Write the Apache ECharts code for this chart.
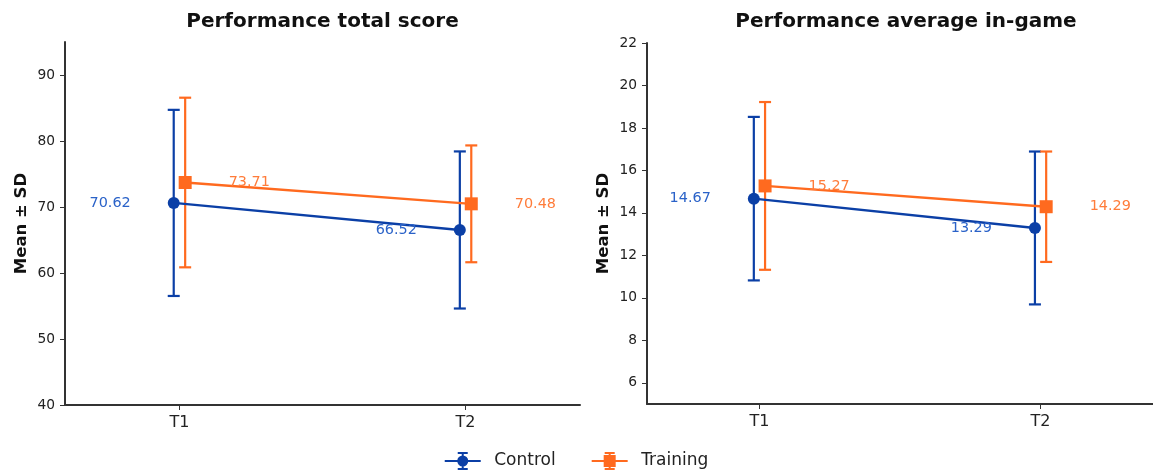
<!DOCTYPE html>
<html>
<head>
<meta charset="utf-8">
<script src="https://cdn.jsdelivr.net/npm/echarts@6/dist/echarts.min.js"></script>
<style>html,body{margin:0;padding:0;background:#fff}#c{width:1153px;height:475px}</style>
</head>
<body>
<div id="c"></div>
<script>
const categories = ['T1', 'T2'];
const titles = ['Performance total score', 'Performance average in-game'];
const yName = 'Mean ± SD';
// Panel 1: total score
const ctrlMean1 = [70.62, 66.52];
const ctrlSD1 = [14.1, 11.9];
const trainMean1 = [73.71, 70.48];
const trainSD1 = [12.85, 8.85];
const yTicks1 = [40, 50, 60, 70, 80, 90];
// Panel 2: average in-game
const ctrlMean2 = [14.67, 13.29];
const ctrlSD2 = [3.85, 3.6];
const trainMean2 = [15.27, 14.29];
const trainSD2 = [3.95, 2.6];
const yTicks2 = [6, 8, 10, 12, 14, 16, 18, 20, 22];

const BLUE = '#0b3fa6', BLUE_T = '#2a62c8';
const ORANGE = '#ff6a1f', ORANGE_T = '#ff7c3a';
const FONT = 'DejaVu Sans';
const OFF = 0.02;
const catPos = categories.map((c, i) => i);

const BAR = 'M0 8H36V10H0Z M17 0H19V18H17Z M13 0H23V2H13Z M13 16H23V18H13Z ';
const ICON_CTRL = 'path://' + BAR + 'M12.5 9A5.5 5.5 0 1 1 23.5 9A5.5 5.5 0 1 1 12.5 9Z';
const ICON_TRAIN = 'path://' + BAR + 'M12 3H24V15H12Z';

function pts(mean, off) { return mean.map((m, i) => [catPos[i] + off, m]); }
function errs(mean, sd, off) { return mean.map((m, i) => [catPos[i] + off, m - sd[i], m + sd[i]]); }

function errSeries(name, idx, data, color) {
  return {
    type: 'custom', name: name + ' SD', xAxisIndex: idx, yAxisIndex: idx, z: 2,
    data: data, silent: true,
    encode: { x: 0, y: [1, 2] },
    renderItem: function (params, api) {
      const x = api.value(0);
      const lo = api.coord([x, api.value(1)]);
      const hi = api.coord([x, api.value(2)]);
      const w = 6;
      const st = { stroke: color, lineWidth: 2.2 };
      return {
        type: 'group', children: [
          { type: 'line', shape: { x1: lo[0], y1: lo[1], x2: hi[0], y2: hi[1] }, style: st },
          { type: 'line', shape: { x1: lo[0] - w, y1: lo[1], x2: lo[0] + w, y2: lo[1] }, style: st },
          { type: 'line', shape: { x1: hi[0] - w, y1: hi[1], x2: hi[0] + w, y2: hi[1] }, style: st }
        ]
      };
    }
  };
}

function lineSeries(name, idx, data, color, tcolor, symbol, size, pos, z) {
  return {
    type: 'line', name: name, xAxisIndex: idx, yAxisIndex: idx, z: z,
    data: data, symbol: symbol, symbolSize: size,
    lineStyle: { color: color, width: 2.4 }, itemStyle: { color: color },
    label: {
      show: true, position: pos, distance: 37, color: tcolor, fontFamily: FONT, fontSize: 14.4,
      formatter: p => p.value[1].toFixed(2)
    },
    emphasis: { disabled: true }, animation: false
  };
}

const grids = [
  { left: 65, top: 42, width: 515, height: 363 },
  { left: 647, top: 43, width: 518, height: 361 }
];

function xAx(idx) {
  return {
    gridIndex: idx, type: 'value', min: -0.4, max: 1.4, interval: 0.2,
    axisLine: { onZero: false, lineStyle: { color: '#333', width: 2 } },
    axisTick: { show: true, customValues: catPos, length: 5, lineStyle: { color: '#333' } },
    axisLabel: { customValues: catPos, formatter: v => categories[Math.round(v)], color: '#222', fontFamily: FONT, fontSize: 16, margin: 10 },
    splitLine: { show: false }
  };
}
function yAx(idx, min, max, ticks) {
  return {
    gridIndex: idx, type: 'value', min: min, max: max,
    name: yName, nameLocation: 'middle', nameGap: 35, nameRotate: 90,
    nameTextStyle: { fontFamily: FONT, fontWeight: 'bold', fontSize: 16.5, color: '#111' },
    axisLine: { show: true, onZero: false, lineStyle: { color: '#333', width: 2 } },
    axisTick: { show: true, customValues: ticks, length: 5, lineStyle: { color: '#333' } },
    axisLabel: { customValues: ticks, color: '#222', fontFamily: FONT, fontSize: 13.8, margin: 10 },
    splitLine: { show: false }
  };
}

const option = {
  backgroundColor: '#fff',
  animation: false,
  title: [
    { text: titles[0], left: 65 + 515 / 2 - 5, textAlign: 'center', top: 7, textStyle: { fontFamily: FONT, fontWeight: 'bold', fontSize: 20, color: '#111' } },
    { text: titles[1], left: 647 + 518 / 2 - 5, textAlign: 'center', top: 7, textStyle: { fontFamily: FONT, fontWeight: 'bold', fontSize: 20, color: '#111' } }
  ],
  legend: {
    bottom: 0, left: 'center', itemGap: 36, itemWidth: 37, itemHeight: 18,
    textStyle: { fontFamily: FONT, fontSize: 17, color: '#222', padding: [0, 0, 0, 8] },
    data: [
      { name: 'Control', icon: ICON_CTRL, itemStyle: { color: BLUE } },
      { name: 'Training', icon: ICON_TRAIN, itemStyle: { color: ORANGE } }
    ]
  },
  grid: grids,
  xAxis: [xAx(0), xAx(1)],
  yAxis: [yAx(0, 40, 95, yTicks1), yAx(1, 5, 22, yTicks2)],
  series: [
    errSeries('Control', 0, errs(ctrlMean1, ctrlSD1, -OFF), BLUE),
    lineSeries('Control', 0, pts(ctrlMean1, -OFF), BLUE, BLUE_T, 'circle', 12, 'left', 3),
    errSeries('Training', 0, errs(trainMean1, trainSD1, OFF), ORANGE),
    lineSeries('Training', 0, pts(trainMean1, OFF), ORANGE, ORANGE_T, 'rect', 13, 'right', 4),
    errSeries('Control', 1, errs(ctrlMean2, ctrlSD2, -OFF), BLUE),
    lineSeries('Control', 1, pts(ctrlMean2, -OFF), BLUE, BLUE_T, 'circle', 12, 'left', 3),
    errSeries('Training', 1, errs(trainMean2, trainSD2, OFF), ORANGE),
    lineSeries('Training', 1, pts(trainMean2, OFF), ORANGE, ORANGE_T, 'rect', 13, 'right', 4)
  ]
};
echarts.init(document.getElementById('c')).setOption(option);
</script>
</body>
</html>
